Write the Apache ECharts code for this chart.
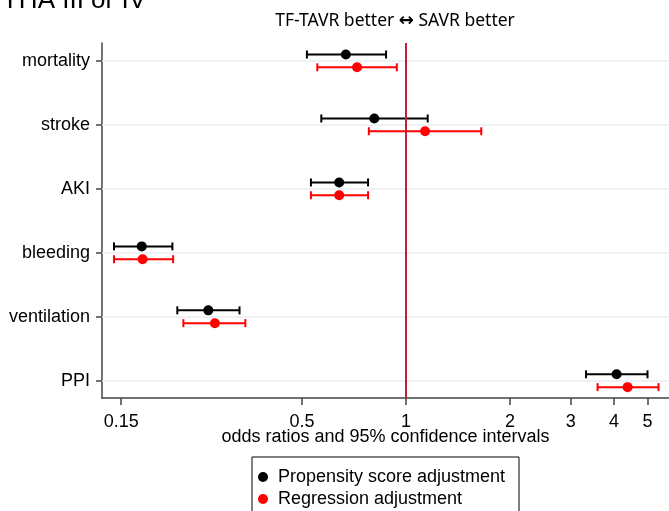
<!DOCTYPE html>
<html>
<head>
<meta charset="utf-8">
<script src="https://cdn.jsdelivr.net/npm/echarts@6/dist/echarts.min.js"></script>
<style>
  html, body { margin: 0; padding: 0; background: #fff; }
  #chart { width: 669px; height: 511px; }
</style>
</head>
<body>
<div id="chart"></div>
<script>
// Outcomes, top to bottom
const outcomes = ['mortality', 'stroke', 'AKI', 'bleeding', 'ventilation', 'PPI'];
const xTicks = [0.15, 0.5, 1, 2, 3, 4, 5];

// Propensity score adjustment: odds ratio with 95% CI
const psOR = [0.670, 0.810, 0.641, 0.172, 0.268, 4.07];
const psLo = [0.517, 0.569, 0.531, 0.143, 0.218, 3.32];
const psHi = [0.876, 1.156, 0.777, 0.211, 0.330, 5.00];

// Regression adjustment: odds ratio with 95% CI
const regOR = [0.722, 1.136, 0.641, 0.173, 0.280, 4.38];
const regLo = [0.554, 0.781, 0.531, 0.143, 0.227, 3.585];
const regHi = [0.941, 1.652, 0.777, 0.212, 0.343, 5.38];

const rowShift = 0.1;   // vertical offset of each estimate from its row
const FONT = 'Liberation Sans, Arial, sans-serif';

const rows = outcomes.map((_, i) => i + 1);
const psPoints = psOR.map((v, i) => [v, rows[i] - rowShift]);
const regPoints = regOR.map((v, i) => [v, rows[i] + rowShift]);
const psBars = psLo.map((v, i) => [v, psHi[i], rows[i] - rowShift]);
const regBars = regLo.map((v, i) => [v, regHi[i], rows[i] + rowShift]);

function errorBar(color) {
  return function (params, api) {
    const y = api.value(2);
    const a = api.coord([api.value(0), y]);
    const b = api.coord([api.value(1), y]);
    const h = 4;
    const style = { stroke: color, lineWidth: 2 };
    return {
      type: 'group',
      children: [
        { type: 'line', shape: { x1: a[0], y1: a[1], x2: b[0], y2: b[1] }, style },
        { type: 'line', shape: { x1: a[0], y1: a[1] - h, x2: a[0], y2: a[1] + h }, style },
        { type: 'line', shape: { x1: b[0], y1: b[1] - h, x2: b[0], y2: b[1] + h }, style }
      ]
    };
  };
}

const chart = echarts.init(document.getElementById('chart'), null, { renderer: 'canvas' });

chart.setOption({
  animation: false,
  backgroundColor: '#fff',
  grid: { left: 102, right: 0, top: 43, bottom: 113, containLabel: false },
  graphic: [
    {
      type: 'text', x: 146, y: 14,
      style: { text: 'NYHA III or IV', font: '26px ' + FONT, fill: '#000', textAlign: 'right', textVerticalAlign: 'bottom' }
    },
    {
      type: 'text', x: 395, y: 21,
      style: {
        text: 'TF-TAVR better {a|↔} SAVR better',
        font: '17.5px "Noto Sans", sans-serif', fill: '#000',
        textAlign: 'center', textVerticalAlign: 'middle',
        rich: { a: { fontWeight: 'bold', fontSize: 18, fontFamily: '"DejaVu Sans", sans-serif' } }
      }
    },
    {
      type: 'rect', shape: { x: 252, y: 457, width: 267, height: 70 },
      style: { fill: 'none', stroke: '#000', lineWidth: 1 }
    }
  ],
  legend: {
    data: ['Propensity score adjustment', 'Regression adjustment'],
    orient: 'vertical', left: 258, top: 468, padding: 0,
    itemWidth: 10, itemHeight: 10, itemGap: 4, icon: 'circle',
    textStyle: { fontFamily: FONT, fontSize: 18, color: '#000', padding: [0, 0, 0, 5] }
  },
  xAxis: {
    type: 'log', logBase: 10, min: 0.132, max: 5.77,
    name: 'odds ratios and 95% confidence intervals',
    nameLocation: 'middle', nameGap: 30, nameMoveOverlap: false,
    nameTextStyle: { fontFamily: FONT, fontSize: 18, color: '#000' },
    axisLine: { show: true, lineStyle: { color: '#444', width: 1.5 } },
    axisTick: { show: true, length: 7, customValues: xTicks, lineStyle: { color: '#444', width: 1.5 } },
    axisLabel: {
      customValues: xTicks, margin: 15,
      fontFamily: FONT, fontSize: 18, color: '#000',
      formatter: v => String(v)
    },
    splitLine: { show: false },
    minorTick: { show: false }
  },
  yAxis: {
    type: 'value', inverse: true, min: 0.72, max: 6.27,
    axisLine: { show: true, lineStyle: { color: '#444', width: 1.5 } },
    axisTick: { show: true, length: 6, customValues: rows, lineStyle: { color: '#444', width: 1.5 } },
    axisLabel: {
      customValues: rows, margin: 12,
      fontFamily: FONT, fontSize: 18, color: '#000',
      formatter: v => outcomes[Math.round(v) - 1] || ''
    },
    splitLine: { show: false }
  },
  series: [
    {
      name: 'grid', type: 'custom', renderItem: () => null, data: [],
      silent: true, z: 1,
      markLine: {
        silent: true, symbol: 'none', label: { show: false },
        lineStyle: { color: '#e8eef3', width: 1.5, type: 'solid' },
        data: rows.map(r => ({ yAxis: r }))
      }
    },
    {
      name: 'null line', type: 'custom', renderItem: () => null, data: [],
      silent: true, z: 2,
      markLine: {
        silent: true, symbol: 'none', label: { show: false },
        lineStyle: { color: '#c41e3a', width: 2, type: 'solid' },
        data: [{ xAxis: 1 }]
      }
    },
    {
      name: 'ps ci', type: 'custom', renderItem: errorBar('#000'),
      encode: { x: [0, 1], y: 2 }, data: psBars, z: 3, silent: true
    },
    {
      name: 'reg ci', type: 'custom', renderItem: errorBar('#ff0000'),
      encode: { x: [0, 1], y: 2 }, data: regBars, z: 3, silent: true
    },
    {
      name: 'Propensity score adjustment', type: 'scatter', data: psPoints,
      symbol: 'circle', symbolSize: 10, itemStyle: { color: '#000', opacity: 1 }, z: 4
    },
    {
      name: 'Regression adjustment', type: 'scatter', data: regPoints,
      symbol: 'circle', symbolSize: 10, itemStyle: { color: '#ff0000', opacity: 1 }, z: 4
    }
  ]
});
</script>
</body>
</html>
